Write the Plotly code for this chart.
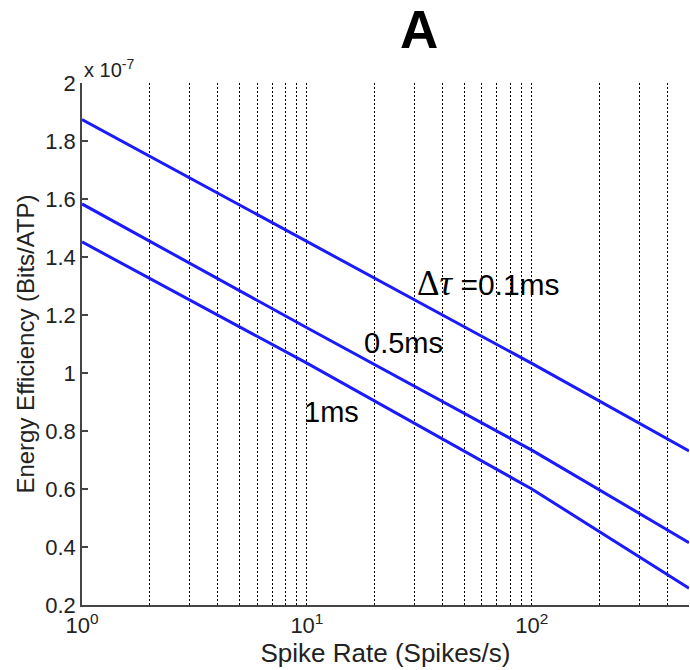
import numpy as np
import plotly.graph_objects as go

# Data (efficiency in units of 1e-7 Bits/ATP)
spike_rate = [1, 10, 100, 500]
eff_01ms = [1.874, 1.454, 1.033, 0.731]
eff_05ms = [1.583, 1.156, 0.734, 0.415]
eff_1ms = [1.452, 1.034, 0.600, 0.258]

grid_x = [1, 2, 3, 4, 5, 6, 7, 8, 9, 10, 20, 30, 40, 50, 60, 70, 80, 90, 100, 200, 300, 400, 500]
x_major = {1: "10<sup>0</sup>", 10: "10<sup>1</sup>", 100: "10<sup>2</sup>"}
y_ticks = [0.2, 0.4, 0.6, 0.8, 1.0, 1.2, 1.4, 1.6, 1.8, 2.0]
y_ticktext = ["0.2", "0.4", "0.6", "0.8", "1", "1.2", "1.4", "1.6", "1.8", "2"]

FONT = "Liberation Sans, Arial, sans-serif"
BLUE = "#1a1aff"

fig = go.Figure()
for ys in (eff_01ms, eff_05ms, eff_1ms):
    fig.add_trace(go.Scatter(x=spike_rate, y=ys, mode="lines",
                             line=dict(color=BLUE, width=3), showlegend=False))

fig.update_layout(
    width=690, height=670,
    margin=dict(l=82, r=1, t=83, b=65),
    paper_bgcolor="white", plot_bgcolor="white",
    font=dict(family=FONT, color="#222", size=22),
)

fig.update_xaxes(
    type="log", range=[0, np.log10(500)],
    tickvals=grid_x, ticktext=[x_major.get(v, "") for v in grid_x],
    showgrid=True, gridcolor="#000", griddash="2px,2px", gridwidth=1,
    showline=True, linecolor="#444", linewidth=1.5,
    ticks="", tickfont=dict(size=22),
    title=dict(text="Spike Rate (Spikes/s)", font=dict(size=26), standoff=6),
    automargin=False,
)
fig.update_yaxes(
    range=[0.2, 2.0], tickvals=y_ticks, ticktext=y_ticktext,
    showgrid=False, zeroline=False,
    showline=True, linecolor="#444", linewidth=1.5,
    ticks="inside", ticklen=6, tickcolor="#444", tickwidth=1.5,
    tickfont=dict(size=22),
    title=dict(text="Energy Efficiency (Bits/ATP)", font=dict(size=24), standoff=4),
    automargin=False,
)

annots = [
    dict(text="<b>A</b>", xref="paper", yref="paper", x=0.555, y=1, yshift=54,
         xanchor="center", yanchor="middle", showarrow=False,
         font=dict(size=53, color="black", family=FONT)),
    dict(text="x 10<sup>-7</sup>", xref="paper", yref="paper", x=0, y=1, yshift=0,
         xanchor="left", yanchor="bottom", showarrow=False,
         font=dict(size=20, color="#222", family=FONT)),
    dict(text="<span style='font-family:Liberation Serif;font-size:35px'>Δ<i>τ</i></span> =0.1ms",
         x=1.48, y=1.31, xanchor="left", yanchor="middle", showarrow=False,
         font=dict(size=30, color="black", family=FONT)),
    dict(text="0.5ms", x=1.244, y=1.103, xanchor="left", yanchor="middle", showarrow=False,
         font=dict(size=29, color="black", family=FONT)),
    dict(text="1ms", x=0.978, y=0.866, xanchor="left", yanchor="middle", showarrow=False,
         font=dict(size=29, color="black", family=FONT)),
]
fig.update_layout(annotations=annots)

fig.write_html("out.html")
